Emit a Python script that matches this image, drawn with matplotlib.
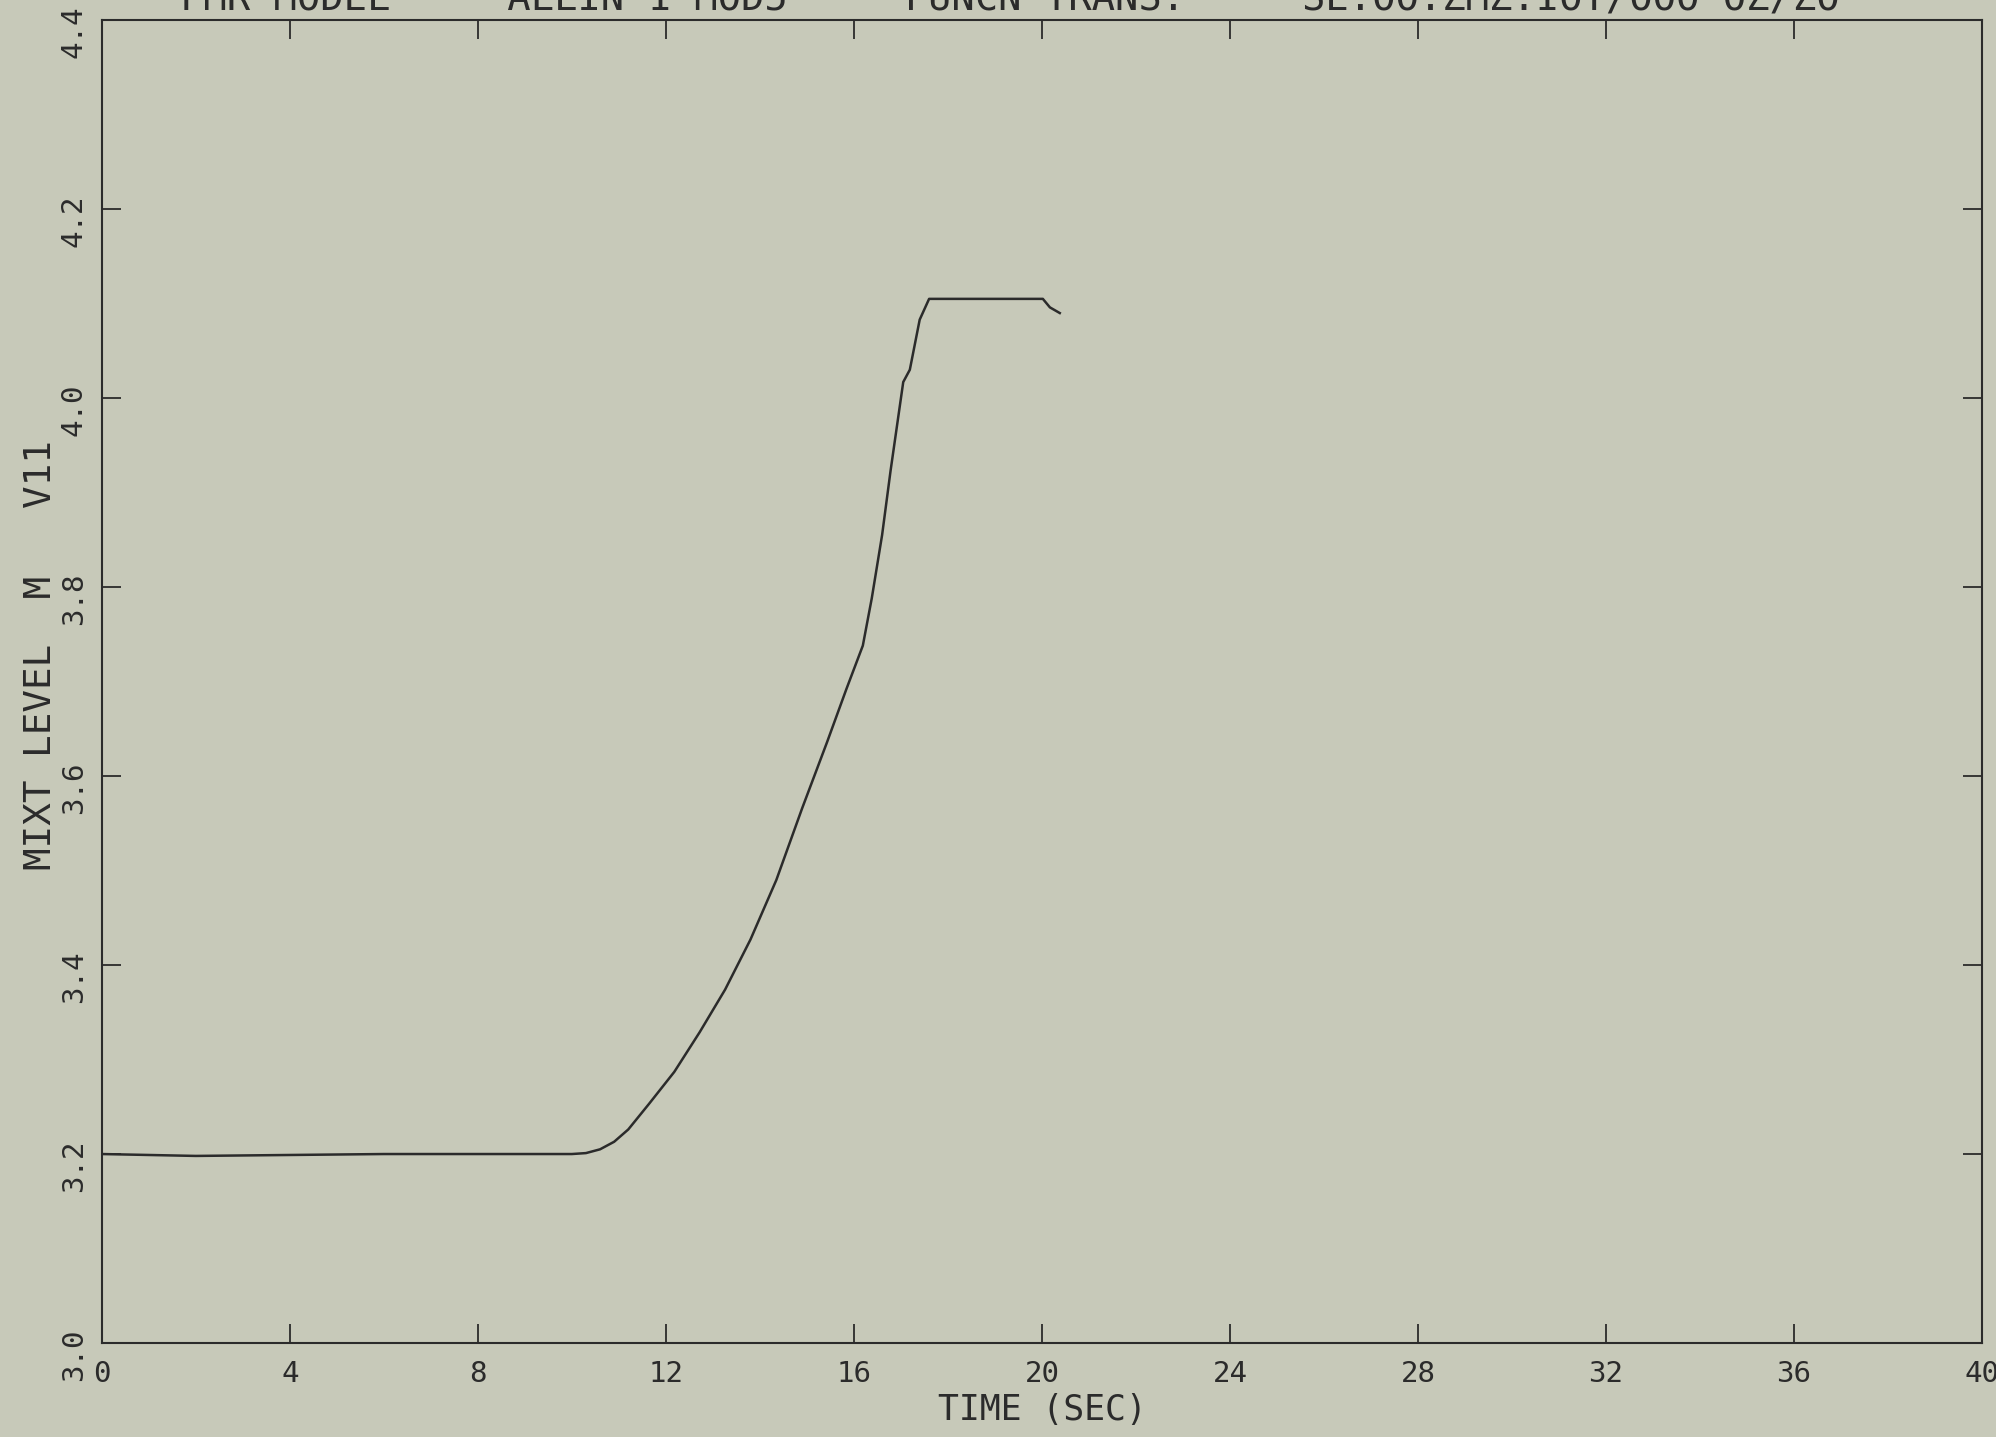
import numpy as np
import matplotlib.pyplot as plt
from matplotlib.transforms import ScaledTranslation

# values
time_s = [0.0, 1.0, 2.0, 4.0, 6.0, 8.0, 10.0, 10.3, 10.6, 10.9, 11.2, 11.64, 12.18,
          12.72, 13.26, 13.8, 14.35, 14.9, 15.43, 15.84, 16.19, 16.38, 16.6,
          16.78, 17.05, 17.19, 17.4, 17.6, 18.5, 19.5, 20.02, 20.17, 20.38]
level_m = [3.200, 3.199, 3.198, 3.199, 3.200, 3.200, 3.200, 3.201, 3.205, 3.213,
           3.226, 3.253, 3.287, 3.329, 3.374, 3.427, 3.490, 3.566, 3.636, 3.692,
           3.738, 3.788, 3.855, 3.923, 4.017, 4.030, 4.083, 4.105, 4.105, 4.105,
           4.105, 4.096, 4.090]

xticks = np.arange(0, 41, 4)
yticks = [3.0, 3.2, 3.4, 3.6, 3.8, 4.0, 4.2, 4.4]
ytick_labels = ['3.0', '3.2', '3.4', '3.6', '3.8', '4.0', '4.2', '4.4']
title = 'FMR MODEL     ALLIN 1 MOD5     FUNCN TRANS.     SE.OO.ZMZ.IOT/OOO OZ/ZO'

paper = '#c7c9b9'
ink = '#2b2b2b'
plt.rcParams['font.family'] = ['DejaVu Sans Mono']

fig = plt.figure(figsize=(19.96, 14.37), dpi=100, facecolor=paper)
ax = fig.add_axes([0.051, 0.0654, 0.942, 0.9206])
ax.set_facecolor(paper)

ax.plot(time_s, level_m, color=ink, lw=1.8)

ax.set_xlim(0, 40)
ax.set_ylim(3.0, 4.4)
ax.set_xticks(xticks)
ax.set_xticklabels([str(t) for t in xticks])
ax.set_yticks(yticks)
ax.set_yticklabels(ytick_labels, rotation=90, va='center')

ax.tick_params(direction='in', length=14, width=1.3, color=ink,
               top=True, right=True, labelsize=21, labelcolor=ink)
ax.tick_params(axis='x', pad=12)
ax.tick_params(axis='y', pad=10)
for lab in ax.get_yticklabels():
    lab.set_transform(lab.get_transform() + ScaledTranslation(0, -0.12, fig.dpi_scale_trans))

for sp in ax.spines.values():
    sp.set_color(ink)
    sp.set_linewidth(1.5)

ax.set_xlabel('TIME (SEC)', fontsize=25, color=ink, labelpad=4)
ax.set_ylabel('MIXT LEVEL  M   V11', fontsize=27, color=ink, labelpad=2)
ax.yaxis.set_label_coords(-0.023, 0.52)

fig.text(0.09, 0.993, title, fontsize=28, color=ink, va='baseline', ha='left')

fig.savefig('out.png', dpi=100, facecolor=paper)
